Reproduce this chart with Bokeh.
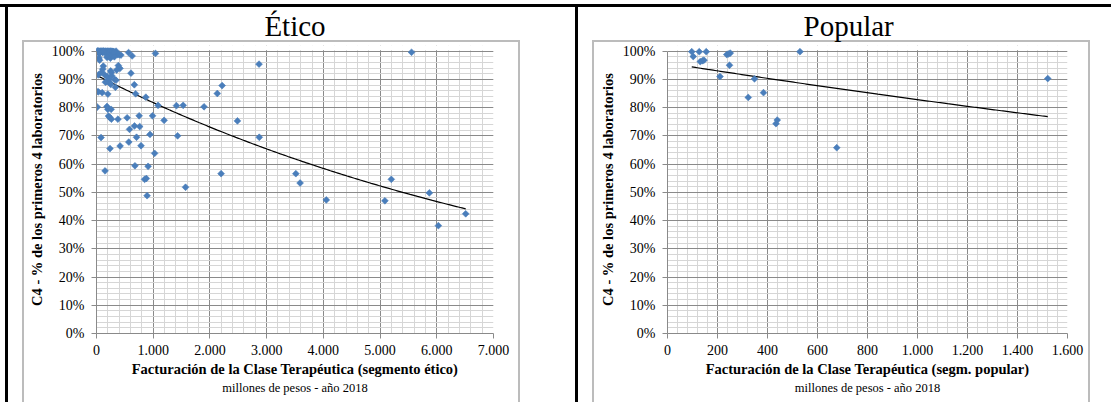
import numpy as np
from bokeh.plotting import figure
from bokeh.layouts import row
from bokeh.models import (Range1d, SingleIntervalTicker, PrintfTickFormatter, CustomJSTickFormatter,
                          BoxAnnotation, LinearAxis, FixedTicker)
from bokeh.embed import file_html
from bokeh.resources import INLINE

# ---------------- data ----------------
ETICO_TITLE = "Ético"
ETICO_XLABEL = "Facturación de la Clase Terapéutica (segmento ético)"
ETICO_X = [15, 25, 40, 50, 65, 80, 95, 110, 125, 140, 160, 175, 195, 215, 235, 255, 275, 300, 320, 345,
           370, 400, 430, 45, 55, 185, 205, 245, 265, 290, 315, 565, 628, 1040, 5555,
           12, 30, 48, 70, 88, 105, 130, 150, 170, 190, 210, 230, 250, 280, 310, 22, 60, 120,
           120, 110, 92, 385, 414, 356, 250, 262, 32, 150, 188, 268, 608, 220, 320, 180, 238, 344, 333,
           157, 251, 667, 2866, 2215, 2130, 8, 35, 100, 200, 690, 870, 1085, 1410, 1528, 1896, 14, 185,
           200, 258, 212, 235, 262, 378, 540, 752, 988, 1192, 2485, 670, 762, 582, 80, 706, 943, 1430,
           2870, 570, 785, 416, 238, 1025, 678, 910, 151, 2197, 3515, 3590, 5198, 848, 879, 1570, 5869,
           892, 4052, 5085, 6510, 6028]
ETICO_Y = [100, 99.6, 100, 99.3, 100, 99.8, 100, 99.5, 100, 99.7, 100, 99.2, 100, 99.6, 100, 99.4, 100, 99.8, 99.1, 100,
           98.8, 98.7, 98.6, 97.6, 96.8, 97.8, 98.2, 97.5, 98.6, 98.4, 98.0, 99.5, 98.3, 99.2, 99.6,
           100, 99.8, 100, 99.7, 100, 99.9, 100, 99.6, 100, 99.8, 100, 99.7, 100, 99.9, 99.8, 100, 99.5, 100,
           94.7, 93.6, 92.6, 94.9, 93.9, 93.3, 93.0, 92.4, 91.6, 91.5, 91.0, 91.3, 92.2, 90.0, 90.0, 89.2, 88.8, 89.7, 87.2,
           89.0, 88.2, 88.1, 95.4, 87.8, 85.0, 85.7, 85.6, 85.3, 84.8, 84.9, 83.7, 80.8, 80.7, 80.8, 80.3, 80.2, 80.4,
           79.4, 79.4, 77.0, 76.5, 75.9, 75.9, 76.4, 77.1, 77.1, 75.5, 75.3, 73.5, 73.3, 72.3, 69.4, 69.5, 70.5, 70.0,
           69.5, 67.8, 66.5, 66.4, 65.5, 63.8, 59.4, 59.2, 57.6, 56.6, 56.6, 53.3, 54.6, 54.6, 54.9, 51.8, 49.8,
           48.8, 47.3, 47.0, 42.4, 38.2]

POPULAR_TITLE = "Popular"
POPULAR_XLABEL = "Facturación de la Clase Terapéutica (segm. popular)"
POPULAR_X = [97, 103, 127, 155, 131, 140, 146, 210, 237, 245, 251, 248, 323, 348, 384, 434, 439, 530, 677, 1521]
POPULAR_Y = [99.8, 98.1, 99.8, 99.8, 96.3, 96.6, 96.8, 91.0, 98.8, 99.0, 99.3, 95.0, 83.6, 90.2, 85.3, 74.3, 75.6, 99.8, 65.8, 90.3]

Y_LABEL = "C4 - % de los primeros 4 laboratorios"
SUBTITLE = "millones de pesos - año 2018"

FONT = "Liberation Serif"
BLUE = "#4A7EBB"
MAJOR = "#8a8a8a"
MINOR = "#d6d6d6"
FRAME_GRAY = "#bcbcbc"


def exp_trend(xs, ys):
    xs = np.asarray(xs, float)
    ys = np.asarray(ys, float)
    b, lna = np.polyfit(xs, np.log(ys), 1)
    xx = np.linspace(xs.min(), xs.max(), 200)
    return xx, np.exp(lna + b * xx)


def bg_css(rects):
    imgs, pos, size = [], [], []
    for (x, y, w, h, c) in rects:
        imgs.append("linear-gradient(%s, %s)" % (c, c))
        pos.append("%spx %spx" % (x, y))
        size.append("%spx %spx" % (w, h))
    return (":host { background-image: %s; background-position: %s; background-size: %s; "
            "background-repeat: no-repeat; }" % (", ".join(imgs), ", ".join(pos), ", ".join(size)))


def panel(title, xlabel, xs, ys, x_max, x_major, width, bl, br, rects, align, offset):
    p = figure(width=width, height=402, output_backend="svg", toolbar_location=None,
               x_range=Range1d(0, x_max), y_range=Range1d(0, 102),
               min_border_left=bl, min_border_right=br, min_border_top=45, min_border_bottom=69,
               stylesheets=[bg_css(rects)])
    p.outline_line_color = None
    p.background_fill_color = "white"
    p.border_fill_color = None

    xt = SingleIntervalTicker(interval=x_major, num_minor_ticks=5)
    yt = SingleIntervalTicker(interval=10, num_minor_ticks=5)
    p.xaxis.ticker = xt
    p.xgrid.ticker = xt
    p.yaxis.ticker = yt
    p.ygrid.ticker = yt
    p.yaxis.bounds = (0, 100)

    for g in (p.xgrid, p.ygrid):
        g.grid_line_color = MAJOR
        g.grid_line_width = 1
        g.minor_grid_line_color = MINOR
        g.minor_grid_line_width = 1

    # hide grid overshoot above 100 %
    p.add_layout(BoxAnnotation(bottom=100.3, fill_color="white", fill_alpha=1.0,
                               line_alpha=0.0, level="underlay"))

    p.xaxis.formatter = CustomJSTickFormatter(
        code="return tick.toFixed(0).replace(/\\B(?=(\\d{3})+(?!\\d))/g, '.');")
    p.yaxis.formatter = PrintfTickFormatter(format="%d%%")

    for ax in (p.xaxis, p.yaxis):
        ax.axis_line_color = MAJOR
        ax.major_tick_line_color = MAJOR
        ax.major_tick_out = 5
        ax.major_tick_in = 0
        ax.minor_tick_out = 0
        ax.minor_tick_in = 0
        ax.major_label_text_font = FONT
        ax.major_label_text_font_size = "14px"
        ax.major_label_text_color = "black"
        ax.axis_label_text_font = FONT
        ax.axis_label_text_font_size = "14.5px"
        ax.axis_label_text_font_style = "bold"
        ax.axis_label_text_color = "black"
    p.xaxis.major_label_standoff = 6
    p.xaxis.axis_label_standoff = 3
    p.yaxis.major_label_standoff = 7
    p.yaxis.axis_label_standoff = 4
    p.xaxis.axis_label = xlabel
    p.yaxis.axis_label = Y_LABEL

    sub = LinearAxis(ticker=FixedTicker(ticks=[]), axis_label=SUBTITLE,
                     axis_line_color=None, major_tick_out=0, major_tick_in=0,
                     minor_tick_out=0, minor_tick_in=0, major_label_standoff=0,
                     axis_label_standoff=1, major_label_text_font_size="0px",
                     axis_label_text_font=FONT, axis_label_text_font_size="12.5px",
                     axis_label_text_font_style="normal", axis_label_text_color="black")
    p.add_layout(sub, "below")

    p.title.text = title
    p.title.align = align
    p.title.offset = offset
    p.title.text_font = FONT
    p.title.text_font_size = "29px"
    p.title.text_font_style = "normal"
    p.title.text_color = "black"
    p.title.standoff = 8

    tx, ty = exp_trend(xs, ys)
    p.line(tx, ty, line_color="black", line_width=1.2)
    p.scatter(xs, ys, marker="square", angle=np.pi / 4, size=4.8,
              fill_color=BLUE, line_color=BLUE, line_width=0.6)
    return p


LEFT_RECTS = [(0, 4, 578, 3, "#000"), (5, 4, 3, 398, "#000"), (575, 4, 3, 398, "#000"),
              (22, 40, 498, 2, FRAME_GRAY), (22, 40, 2, 362, FRAME_GRAY), (518, 40, 2, 362, FRAME_GRAY)]
RIGHT_RECTS = [(0, 4, 533, 3, "#000"),
               (14, 40, 498, 2, FRAME_GRAY), (14, 40, 2, 362, FRAME_GRAY), (510, 40, 2, 362, FRAME_GRAY)]

left = panel(ETICO_TITLE, ETICO_XLABEL, ETICO_X, ETICO_Y, 7000, 1000, 578, 96, 85, LEFT_RECTS, "center", 0)
right = panel(POPULAR_TITLE, POPULAR_XLABEL, POPULAR_X, POPULAR_Y, 1600, 200, 533, 89, 44, RIGHT_RECTS, "left", 136)

layout = row(left, right)
open("out.html", "w").write(file_html(layout, INLINE))
